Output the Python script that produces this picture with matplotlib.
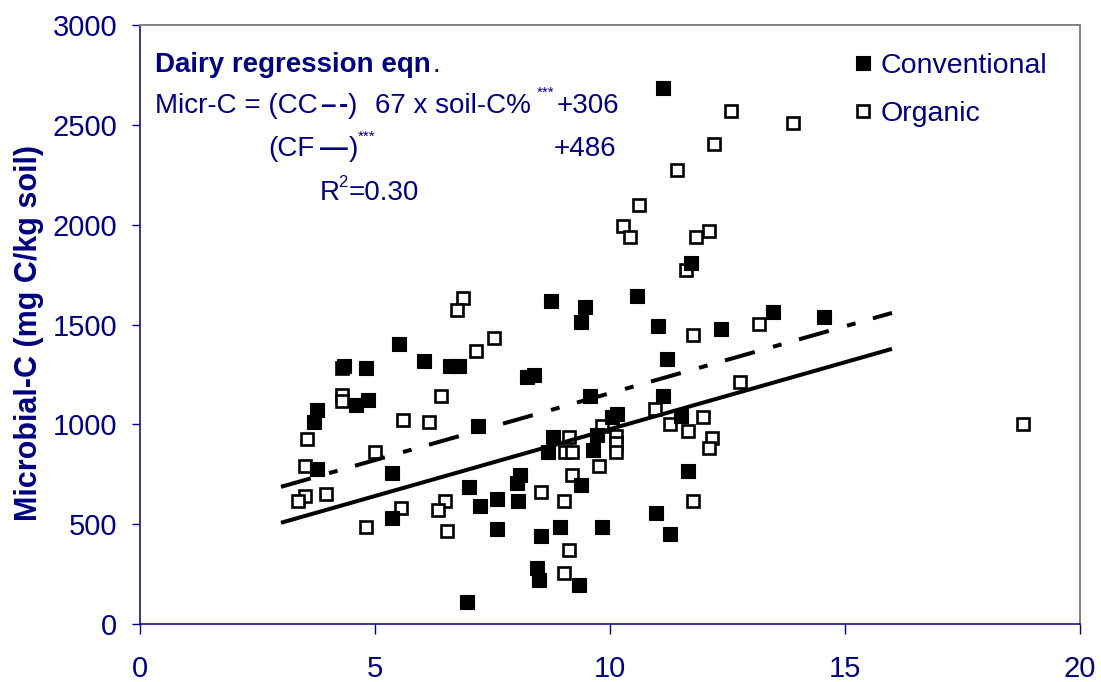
import matplotlib
matplotlib.use("Agg")
import matplotlib.pyplot as plt
import numpy as np

plt.rcParams['font.family'] = ['Liberation Sans', 'DejaVu Sans']

NAVY = "#000080"

# soil-C (%) and microbial-C (mg C/kg soil)
conv_x = [3.77, 3.76, 3.70, 4.34, 4.81, 4.60, 4.86, 5.50, 6.04, 6.60, 6.79,
          5.36, 5.36, 7.20, 8.23, 8.39, 8.09, 8.03, 6.99, 7.23, 7.59, 8.04,
          7.59, 8.53, 8.94, 9.82, 8.44, 8.48, 9.33, 6.95, 9.38, 8.74, 9.47,
          9.38, 10.58, 11.03, 12.36, 11.22, 9.57, 11.12, 10.04, 10.14, 11.52,
          9.72, 9.63, 8.78, 8.69, 11.67, 10.98, 11.28, 11.12, 11.72, 13.46,
          14.55]
conv_y = [778, 1073, 1012, 1290, 1282, 1095, 1120, 1400, 1317, 1292, 1292,
          757, 533, 990, 1237, 1245, 745, 708, 687, 592, 627, 615,
          475, 440, 487, 487, 278, 220, 195, 112, 695, 1620, 1587,
          1515, 1645, 1492, 1478, 1328, 1142, 1142, 1037, 1050, 1040,
          945, 873, 937, 862, 767, 558, 453, 2683, 1807, 1562,
          1540]

org_x = [3.51, 3.37, 3.96, 3.51, 3.56, 4.30, 4.30, 4.30, 6.40, 5.60, 6.14,
         5.00, 5.55, 4.81, 6.49, 6.35, 6.54, 6.88, 6.74, 7.54, 7.14, 8.53,
         9.03, 9.19, 9.13, 9.03, 9.13, 9.04, 9.19, 9.83, 10.13, 10.13, 10.13,
         9.77, 10.96, 11.77, 11.97, 11.28, 11.67, 12.17, 12.11, 11.77, 12.77,
         13.16, 12.57, 13.90, 12.21, 11.42, 10.62, 10.28, 10.43, 11.82, 12.11,
         11.62, 18.79]
org_y = [640, 617, 650, 790, 928, 1283, 1145, 1117, 1140, 1023, 1012,
         862, 580, 487, 617, 570, 465, 1632, 1573, 1433, 1365, 662,
         617, 745, 370, 253, 937, 862, 862, 990, 940, 907, 862,
         790, 1075, 1445, 1037, 1003, 965, 933, 883, 615, 1212,
         1503, 2567, 2508, 2403, 2275, 2100, 1995, 1937, 1937, 1970,
         1773, 1000]

# regression equation printed on the chart
slope = 67
icpt_cc = 306
icpt_cf = 486
fit_x = np.array([3, 16])

fig = plt.figure(figsize=(11.01, 6.82), dpi=100)
ax = fig.add_axes([140 / 1101, 1 - 624 / 682, 940 / 1101, 599 / 682])

org, = ax.plot(org_x, org_y, 's', ms=8.8, mfc='white', mec='black', mew=1.9,
               linestyle='none', label='Organic')
conv, = ax.plot(conv_x, conv_y, 's', ms=10.3, mfc='black', mec='black', mew=0.8,
                linestyle='none', label='Conventional')
ax.plot(fit_x, slope * fit_x + icpt_cc, color='black', lw=2.9, solid_capstyle='butt')
ax.plot(fit_x, slope * fit_x + icpt_cf, color='black', lw=2.9,
        dashes=(7.7, 4.7, 2.2, 4.5))

ax.set_xlim(0, 20)
ax.set_ylim(0, 3000)
ax.set_xticks(np.arange(0, 21, 5))
ax.set_yticks(np.arange(0, 3001, 500))
ax.tick_params(axis='x', direction='out', length=7, width=1, color=NAVY,
               labelcolor=NAVY, labelsize=21, pad=15)
ax.tick_params(axis='y', direction='out', length=6, width=1, color=NAVY,
               labelcolor=NAVY, labelsize=21, pad=10.5)
for s in ('left', 'bottom'):
    ax.spines[s].set_color(NAVY)
    ax.spines[s].set_linewidth(1.1)
for s in ('top', 'right'):
    ax.spines[s].set_color('#808080')
    ax.spines[s].set_linewidth(1.4)

ax.set_ylabel("Microbial-C (mg C/kg soil)", fontsize=22, fontweight='bold',
              color=NAVY)
ax.yaxis.set_label_coords(-0.102, 0.4866)

ax.legend(handles=[conv, org], loc='upper left', bbox_to_anchor=(0.757, 0.953),
          frameon=False, fontsize=20.5, handlelength=0.8, handletextpad=0.21,
          labelspacing=0.76, borderpad=0, borderaxespad=0, labelcolor=NAVY)

# regression equation annotation
def t(x, y, s, **kw):
    kw.setdefault('fontsize', 20)
    ax.text(x, y, s, transform=ax.transAxes, color=NAVY, va='baseline',
            ha='left', **kw)

t(0.016, 0.922, "Dairy regression eqn", fontweight='bold')
t(0.3115, 0.922, ".")
t(0.016, 0.853, "Micr-C = (CC")
t(0.1915, 0.853, "\u2013", fontweight='bold')
t(0.2115, 0.853, "-", fontweight='bold')
t(0.2213, 0.853, ")")
t(0.25, 0.853, "67 x soil-C%")
t(0.4223, 0.88, "***", fontsize=11)
t(0.4436, 0.853, "+306")
t(0.1362, 0.781, "(CF")
t(0.1915, 0.781, "\u2014", fontweight='bold')
t(0.2223, 0.781, ")")
t(0.2319, 0.806, "***", fontsize=11)
t(0.4404, 0.781, "+486")
t(0.191, 0.708, "R")
t(0.2105, 0.7295, "2", fontsize=12)
t(0.2215, 0.708, "=0.30")

fig.savefig("out.png", dpi=100)
